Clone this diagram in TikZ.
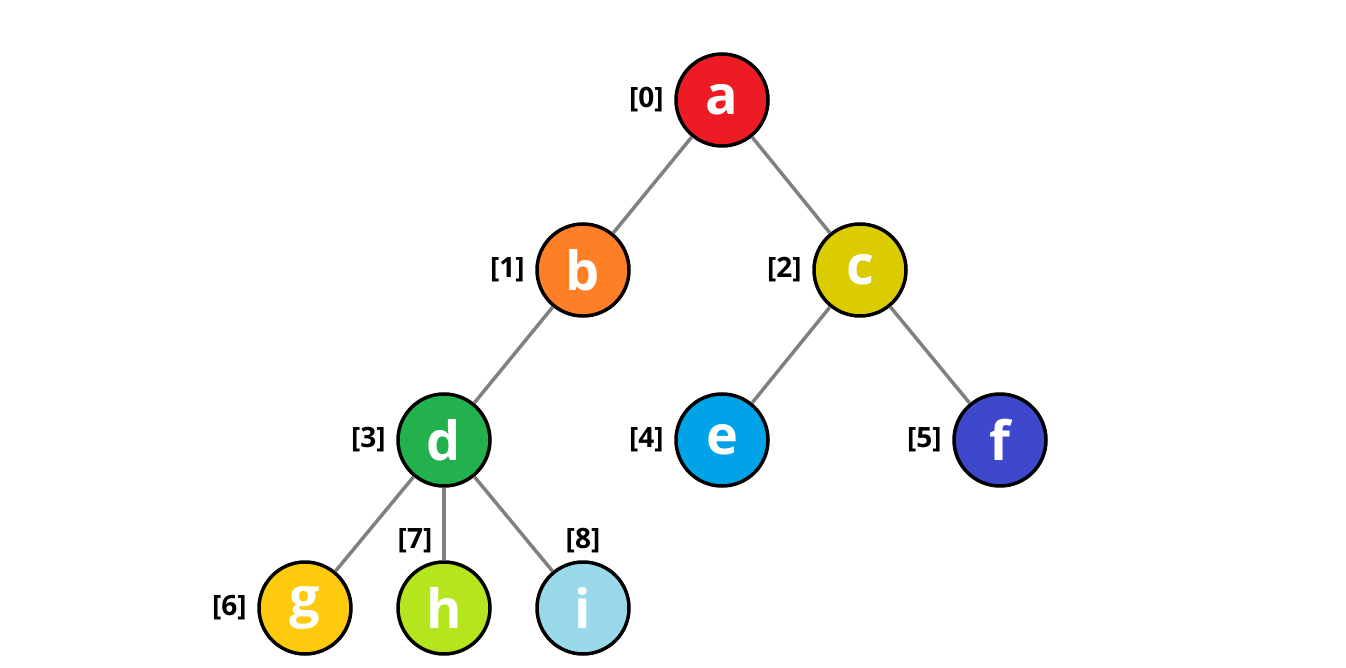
\documentclass[tikz,border=0pt]{standalone}
\usepackage{fontspec}
\setmainfont{Open Sans}
\usetikzlibrary{positioning}
\definecolor{treered}{HTML}{ED1C24}
\definecolor{treeorange}{HTML}{FF7F27}
\definecolor{treeolive}{HTML}{DBCC00}
\definecolor{treegreen}{HTML}{22B14C}
\definecolor{treesky}{HTML}{00A2E8}
\definecolor{treeindigo}{HTML}{3F48CC}
\definecolor{treegold}{HTML}{FFC90E}
\definecolor{treelime}{HTML}{B5E61D}
\definecolor{treeice}{HTML}{99D9EA}
\definecolor{treeedge}{HTML}{808080}

\begin{document}
\begin{tikzpicture}[
  x=1pt, y=-1pt,
  vtx/.style={circle, draw=black, line width=3.5pt, minimum size=92pt, inner sep=0pt,
              text=white, font=\fontsize{54}{58}\selectfont\bfseries},
  idx/.style={font=\fontsize{28}{30}\selectfont\bfseries, text=black},
  edge/.style={treeedge, line width=3.5pt},
]
\useasboundingbox (0,0) rectangle (1346,668);

% ---------------- vertices ------------------------------------------
\node[vtx, fill=treered]    (a) at (722,100) {a};
\node[vtx, fill=treeorange] (b) at (583,270) {b};
\node[vtx, fill=treeolive]  (c) at (860,270) {c};
\node[vtx, fill=treegreen]  (d) at (444,440) {d};
\node[vtx, fill=treesky]    (e) at (722,440) {e};
\node[vtx, fill=treeindigo] (f) at (1000,440) {f};
\node[vtx, fill=treegold]   (g) at (305,608) {g};
\node[vtx, fill=treelime]   (h) at (444,608) {h};
\node[vtx, fill=treeice]    (i) at (583,608) {i};

% ---------------- edges ---------------------------------------------
\foreach \p/\q in {a/b, a/c, b/d, c/e, c/f, d/g, d/h, d/i}
  \draw[edge] (\p) -- (\q);

% ---------------- indices -------------------------------------------
\foreach \v/\k in {a/0, b/1, c/2, d/3, e/4, f/5, g/6}
  \node[idx, left=7pt of \v] (i\k) {[\k]};
\node[idx] (i7) at (415,541) {[7]};
\node[idx] (i8) at (583,541) {[8]};

\end{tikzpicture}
\end{document}
